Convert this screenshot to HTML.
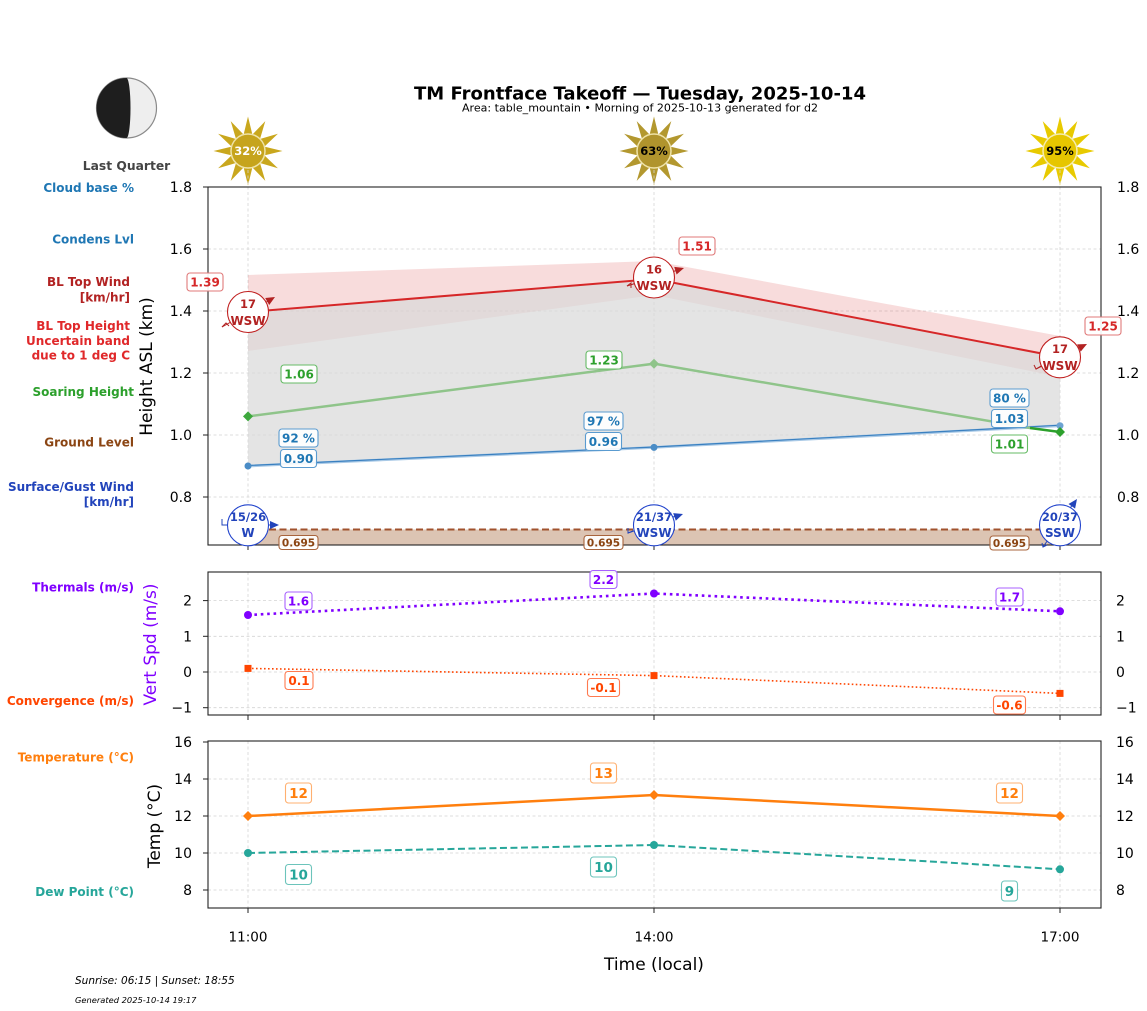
<!DOCTYPE html>
<html><head><meta charset="utf-8"><style>
html,body{margin:0;padding:0;background:#fff;}
svg{display:block;}
text{font-family:"DejaVu Sans","Liberation Sans",sans-serif;}
.b{font-weight:bold;}
</style></head><body>
<svg width="1147" height="1011" viewBox="0 0 1147 1011" xmlns="http://www.w3.org/2000/svg">
<rect x="0" y="0" width="1147" height="1011" fill="#fff"/>

<!-- Title -->
<text x="640" y="99.5" text-anchor="middle" font-size="17.5" class="b" fill="#000" textLength="452" lengthAdjust="spacingAndGlyphs">TM Frontface Takeoff — Tuesday, 2025-10-14</text>
<text x="640" y="111.5" text-anchor="middle" font-size="11" fill="#000" textLength="356" lengthAdjust="spacingAndGlyphs">Area: table_mountain • Morning of 2025-10-13 generated for d2</text>

<!-- Moon -->
<circle cx="126.5" cy="108" r="30" fill="#eeeeee" stroke="#8a8a8a" stroke-width="1.2"/>
<path d="M126.5,78 A30,30 0 0 0 126.5,138 A4,30 0 0 0 126.5,78 Z" fill="#1e1e1e"/>
<text x="126.5" y="170" text-anchor="middle" font-size="12.3" class="b" fill="#444">Last Quarter</text>

<!-- Suns -->
<g transform="translate(248,151)">
<polygon points="0,-34.5 4.4,-16.4 17.3,-29.9 12,-12 29.9,-17.3 16.4,-4.4 34.5,0 16.4,4.4 29.9,17.3 12,12 17.3,29.9 4.4,16.4 0,34.5 -4.4,16.4 -17.3,29.9 -12,12 -29.9,17.3 -16.4,4.4 -34.5,0 -16.4,-4.4 -29.9,-17.3 -12,-12 -17.3,-29.9 -4.4,-16.4" fill="#c9a71d"/>
<circle r="17" fill="#c6a41c" stroke="#efe3a8" stroke-width="1.5"/>
<text y="4" text-anchor="middle" font-size="11.5" class="b" fill="#fff">32%</text>
</g>
<g transform="translate(654,151)">
<polygon points="0,-34.5 4.4,-16.4 17.3,-29.9 12,-12 29.9,-17.3 16.4,-4.4 34.5,0 16.4,4.4 29.9,17.3 12,12 17.3,29.9 4.4,16.4 0,34.5 -4.4,16.4 -17.3,29.9 -12,12 -29.9,17.3 -16.4,4.4 -34.5,0 -16.4,-4.4 -29.9,-17.3 -12,-12 -17.3,-29.9 -4.4,-16.4" fill="#b3982f"/>
<circle r="17" fill="#b0942d" stroke="#efe3a8" stroke-width="1.5"/>
<text y="4" text-anchor="middle" font-size="11.5" class="b" fill="#000">63%</text>
</g>
<g transform="translate(1060,151)">
<polygon points="0,-34.5 4.4,-16.4 17.3,-29.9 12,-12 29.9,-17.3 16.4,-4.4 34.5,0 16.4,4.4 29.9,17.3 12,12 17.3,29.9 4.4,16.4 0,34.5 -4.4,16.4 -17.3,29.9 -12,12 -29.9,17.3 -16.4,4.4 -34.5,0 -16.4,-4.4 -29.9,-17.3 -12,-12 -17.3,-29.9 -4.4,-16.4" fill="#e8ca00"/>
<circle r="17" fill="#e6c600" stroke="#f5ecb0" stroke-width="1.5"/>
<text y="4" text-anchor="middle" font-size="11.5" class="b" fill="#000">95%</text>
</g>

<!-- Left category labels -->
<g font-size="12" class="b" text-anchor="end">
<text x="134" y="192" fill="#1f77b4">Cloud base %</text>
<text x="134" y="243.5" fill="#1f77b4">Condens Lvl</text>
<text x="130" y="286" fill="#b22222">BL Top Wind</text>
<text x="130" y="301.5" fill="#b22222">[km/hr]</text>
<text x="130" y="330" fill="#e0282a">BL Top Height</text>
<text x="130" y="345" fill="#e0282a">Uncertain band</text>
<text x="130" y="359.5" fill="#e0282a">due to 1 deg C</text>
<text x="134" y="396" fill="#2ca02c">Soaring Height</text>
<text x="134" y="446.5" fill="#8b4513">Ground Level</text>
<text x="134" y="491" fill="#2244bb">Surface/Gust Wind</text>
<text x="134" y="506" fill="#2244bb">[km/hr]</text>
<text x="134" y="591.5" fill="#8000ff">Thermals (m/s)</text>
<text x="134" y="705" fill="#ff4500">Convergence (m/s)</text>
<text x="134" y="761.5" fill="#ff7f0e">Temperature (°C)</text>
<text x="134" y="896" fill="#26a69a">Dew Point (°C)</text>
</g>

<!-- Axis labels -->
<text transform="translate(152,366.5) rotate(-90)" text-anchor="middle" font-size="17" fill="#000">Height ASL (km)</text>
<text transform="translate(156,644.5) rotate(-90)" text-anchor="middle" font-size="17" fill="#8000ff">Vert Spd (m/s)</text>
<text transform="translate(160,826) rotate(-90)" text-anchor="middle" font-size="17" fill="#000">Temp (°C)</text>
<text x="654" y="970" text-anchor="middle" font-size="17" fill="#000">Time (local)</text>

<!-- Grids -->
<g stroke="#d4d4d4" stroke-width="0.8" stroke-dasharray="3,2.5" fill="none">
<line x1="208" y1="249" x2="1101" y2="249"/>
<line x1="208" y1="311" x2="1101" y2="311"/>
<line x1="208" y1="373" x2="1101" y2="373"/>
<line x1="208" y1="435" x2="1101" y2="435"/>
<line x1="208" y1="497" x2="1101" y2="497"/>
<line x1="248" y1="170" x2="248" y2="545"/>
<line x1="654" y1="170" x2="654" y2="545"/>
<line x1="1060" y1="170" x2="1060" y2="545"/>
<line x1="208" y1="600.6" x2="1101" y2="600.6"/>
<line x1="208" y1="636.3" x2="1101" y2="636.3"/>
<line x1="208" y1="672" x2="1101" y2="672"/>
<line x1="208" y1="707.7" x2="1101" y2="707.7"/>
<line x1="248" y1="572" x2="248" y2="715"/>
<line x1="654" y1="572" x2="654" y2="715"/>
<line x1="1060" y1="572" x2="1060" y2="715"/>
<line x1="208" y1="779" x2="1101" y2="779"/>
<line x1="208" y1="816" x2="1101" y2="816"/>
<line x1="208" y1="853" x2="1101" y2="853"/>
<line x1="208" y1="890" x2="1101" y2="890"/>
<line x1="248" y1="741" x2="248" y2="908"/>
<line x1="654" y1="741" x2="654" y2="908"/>
<line x1="1060" y1="741" x2="1060" y2="908"/>
</g>

<!-- Main panel fills -->
<polygon points="248,275 654,261 1060,336 1060,377 654,295 248,351" fill="#d62728" fill-opacity="0.16"/>
<polygon points="248,312 654,279 1060,357 1060,425.7 654,447.4 248,466" fill="#d8d8d8" fill-opacity="0.7"/>
<rect x="248" y="529.5" width="812" height="15.5" fill="#dcc4b3"/>
<line x1="248" y1="529.5" x2="1060" y2="529.5" stroke="#a0522d" stroke-width="2" stroke-dasharray="7,3.5"/>

<!-- Blue cloud base -->
<polyline points="248,466 654,447.4 1060,425.7" fill="none" stroke="#a9c9e6" stroke-width="2.8"/>
<polyline points="248,465.5 654,447 1060,425.2" fill="none" stroke="#3a80c0" stroke-width="1.2"/>
<circle cx="248" cy="466" r="3.5" fill="#4a8cc6"/>
<circle cx="654" cy="447.4" r="3.5" fill="#4a8cc6"/>
<circle cx="1060" cy="425.7" r="3.5" fill="#6da3d2"/>

<!-- Green soaring -->
<polyline points="248,416.4 654,363.7 1030,428" fill="none" stroke="#8fc48a" stroke-width="2.5"/>
<line x1="1030" y1="428" x2="1060" y2="432" stroke="#2ca02c" stroke-width="2.5"/>
<polygon points="248,411.4 253,416.4 248,421.4 243,416.4" fill="#3da83d"/>
<polygon points="654,358.7 659,363.7 654,368.7 649,363.7" fill="#8fc48a"/>
<polygon points="1060,427 1065,432 1060,437 1055,432" fill="#2ca02c"/>

<!-- Red BL top -->
<polyline points="248,312 654,279 1060,357" fill="none" stroke="#d62728" stroke-width="2"/>

<!-- Middle panel data -->
<polyline points="248,615 654,593.5 1060,611.3" fill="none" stroke="#8000ff" stroke-width="2.6" stroke-dasharray="2.6,3.8"/>
<circle cx="248" cy="615" r="4" fill="#8000ff"/>
<circle cx="654" cy="593.5" r="4" fill="#8000ff"/>
<circle cx="1060" cy="611.3" r="4" fill="#8000ff"/>
<polyline points="248,668.4 654,675.6 1060,693.4" fill="none" stroke="#ff4500" stroke-width="1.6" stroke-dasharray="1.6,2.4"/>
<rect x="244.5" y="664.9" width="7" height="7" fill="#ff4500"/>
<rect x="650.5" y="672.1" width="7" height="7" fill="#ff4500"/>
<rect x="1056.5" y="689.9" width="7" height="7" fill="#ff4500"/>

<!-- Bottom panel data -->
<polyline points="248,816 654,795 1060,816" fill="none" stroke="#ff7f0e" stroke-width="2.5"/>
<polygon points="248,811 253,816 248,821 243,816" fill="#ff7f0e"/>
<polygon points="654,790 659,795 654,800 649,795" fill="#ff7f0e"/>
<polygon points="1060,811 1065,816 1060,821 1055,816" fill="#ff7f0e"/>
<polyline points="248,853 654,845 1060,869.3" fill="none" stroke="#26a69a" stroke-width="2" stroke-dasharray="7,3.5"/>
<circle cx="248" cy="853" r="4" fill="#26a69a"/>
<circle cx="654" cy="845" r="4" fill="#26a69a"/>
<circle cx="1060" cy="869.3" r="4" fill="#26a69a"/>

<!-- Frames -->
<g fill="none" stroke="#222" stroke-width="1.1">
<rect x="208" y="187" width="893" height="358"/>
<rect x="208" y="572" width="893" height="143"/>
<rect x="208" y="741" width="893" height="167"/>
</g>
<!-- Ticks -->
<g stroke="#222" stroke-width="1">
<line x1="203" y1="187" x2="208" y2="187"/>
<line x1="203" y1="249" x2="208" y2="249"/>
<line x1="203" y1="311" x2="208" y2="311"/>
<line x1="203" y1="373" x2="208" y2="373"/>
<line x1="203" y1="435" x2="208" y2="435"/>
<line x1="203" y1="497" x2="208" y2="497"/>
<line x1="203" y1="600.6" x2="208" y2="600.6"/>
<line x1="203" y1="636.3" x2="208" y2="636.3"/>
<line x1="203" y1="672" x2="208" y2="672"/>
<line x1="203" y1="707.7" x2="208" y2="707.7"/>
<line x1="203" y1="742" x2="208" y2="742"/>
<line x1="203" y1="779" x2="208" y2="779"/>
<line x1="203" y1="816" x2="208" y2="816"/>
<line x1="203" y1="853" x2="208" y2="853"/>
<line x1="203" y1="890" x2="208" y2="890"/>
<line x1="248" y1="545" x2="248" y2="550"/>
<line x1="654" y1="545" x2="654" y2="550"/>
<line x1="1060" y1="545" x2="1060" y2="550"/>
<line x1="248" y1="715" x2="248" y2="720"/>
<line x1="654" y1="715" x2="654" y2="720"/>
<line x1="1060" y1="715" x2="1060" y2="720"/>
<line x1="248" y1="908" x2="248" y2="913"/>
<line x1="654" y1="908" x2="654" y2="913"/>
<line x1="1060" y1="908" x2="1060" y2="913"/>
</g>

<!-- Tick labels -->
<g font-size="14" fill="#000" text-anchor="end">
<text x="192" y="192">1.8</text><text x="192" y="254">1.6</text><text x="192" y="316">1.4</text>
<text x="192" y="378">1.2</text><text x="192" y="440">1.0</text><text x="192" y="502">0.8</text>
<text x="192" y="605.6">2</text><text x="192" y="641.3">1</text><text x="192" y="677">0</text><text x="192" y="712.7">−1</text>
<text x="192" y="747">16</text><text x="192" y="784">14</text><text x="192" y="821">12</text><text x="192" y="858">10</text><text x="192" y="895">8</text>
</g>
<g font-size="14" fill="#000" text-anchor="start">
<text x="1117" y="192">1.8</text><text x="1117" y="254">1.6</text><text x="1117" y="316">1.4</text>
<text x="1117" y="378">1.2</text><text x="1117" y="440">1.0</text><text x="1117" y="502">0.8</text>
<text x="1116" y="605.6">2</text><text x="1116" y="641.3">1</text><text x="1116" y="677">0</text><text x="1116" y="712.7">−1</text>
<text x="1116" y="747">16</text><text x="1116" y="784">14</text><text x="1116" y="821">12</text><text x="1116" y="858">10</text><text x="1116" y="895">8</text>
</g>
<g font-size="13.5" fill="#000" text-anchor="middle">
<text x="248" y="941.5">11:00</text><text x="654" y="941.5">14:00</text><text x="1060" y="941.5">17:00</text>
</g>

<!-- Wind arrows -->
<g stroke-width="1" fill="none">
<polyline points="222,327 226,323 229,326" stroke="#b22222"/>
<line x1="222" y1="327" x2="270" y2="300" stroke="#b22222"/>
<line x1="627" y1="286" x2="678" y2="270" stroke="#b22222"/>
<polyline points="627,286 631,283 631,288" stroke="#b22222"/>
<line x1="1036" y1="369" x2="1080" y2="347" stroke="#b22222"/>
<polyline points="1034,365 1036,369 1041,366" stroke="#b22222"/>
<line x1="222" y1="525" x2="272" y2="525" stroke="#2244bb"/>
<polyline points="222,519 222,525 228,525" stroke="#2244bb"/>
<line x1="628" y1="533" x2="676" y2="516" stroke="#2244bb"/>
<polyline points="628,528 628,533 633,531" stroke="#2244bb"/>
<line x1="1043" y1="547" x2="1073" y2="504" stroke="#2244bb"/>
<polyline points="1042,543 1043,547 1047,545" stroke="#2244bb"/>
</g>
<polygon points="275,297 269.2,305 265.2,298" fill="#b22222"/>
<polygon points="684,268 676.6,274.5 674.2,266.9" fill="#b22222"/>
<polygon points="1087,344 1080.7,351.6 1077.1,344.4" fill="#b22222"/>
<polygon points="279,525 270,521 270,529" fill="#2244bb"/>
<polygon points="683,514 675.8,520.7 673.2,513.1" fill="#2244bb"/>
<polygon points="1077,499 1075.1,508.6 1068.5,504" fill="#2244bb"/>

<!-- Wind circles -->
<g stroke-width="1.1" fill="#fff">
<circle cx="248" cy="312" r="20.5" stroke="#c02020"/>
<circle cx="654" cy="277.5" r="20.5" stroke="#c02020"/>
<circle cx="1060" cy="357.3" r="20.5" stroke="#c02020"/>
<circle cx="248" cy="525.3" r="20.5" stroke="#2244cc"/>
<circle cx="654" cy="525.3" r="20.5" stroke="#2244cc"/>
<circle cx="1060" cy="525.3" r="20.5" stroke="#2244cc"/>
</g>
<g class="b" text-anchor="middle" fill="#b22222">
<text x="248" y="308" font-size="11.5">17</text><text x="248" y="325" font-size="12">WSW</text>
<text x="654" y="273.3" font-size="11.5">16</text><text x="654" y="290" font-size="12">WSW</text>
<text x="1060" y="353" font-size="11.5">17</text><text x="1060" y="370" font-size="12">WSW</text>
</g>
<g class="b" text-anchor="middle" fill="#2244bb" font-size="11.5">
<text x="248" y="521">15/26</text><text x="248" y="537" font-size="12">W</text>
<text x="654" y="521">21/37</text><text x="654" y="537" font-size="12">WSW</text>
<text x="1060" y="521">20/37</text><text x="1060" y="537" font-size="12">SSW</text>
</g>

<!-- Value boxes -->
<g fill="#fff" fill-opacity="0.92" stroke-width="1.1">
<rect x="187" y="273" width="36" height="18" rx="3" stroke="#e07a7a"/>
<rect x="679" y="237" width="36" height="18" rx="3" stroke="#e07a7a"/>
<rect x="1085" y="317" width="36" height="18" rx="3" stroke="#e07a7a"/>
<rect x="281" y="365" width="36" height="18" rx="3" stroke="#66bb66"/>
<rect x="586" y="351" width="36" height="18" rx="3" stroke="#66bb66"/>
<rect x="991.5" y="435" width="36" height="18" rx="3" stroke="#66bb66"/>
<rect x="279" y="429" width="39" height="18" rx="3" stroke="#5a9bd0"/>
<rect x="280.5" y="449.5" width="36" height="18" rx="3" stroke="#5a9bd0"/>
<rect x="584" y="412" width="39" height="18" rx="3" stroke="#5a9bd0"/>
<rect x="585.5" y="432.5" width="36" height="18" rx="3" stroke="#5a9bd0"/>
<rect x="990" y="389" width="39" height="18" rx="3" stroke="#5a9bd0"/>
<rect x="991.5" y="409.5" width="36" height="18" rx="3" stroke="#5a9bd0"/>
<rect x="279" y="535.5" width="39" height="14" rx="3" stroke="#a8643c"/>
<rect x="584" y="535.5" width="39" height="14" rx="3" stroke="#a8643c"/>
<rect x="990" y="536" width="39" height="14" rx="3" stroke="#a8643c"/>
<rect x="285" y="592" width="27" height="18" rx="3" stroke="#a860ff"/>
<rect x="590" y="570.5" width="27" height="18" rx="3" stroke="#a860ff"/>
<rect x="996" y="588" width="27" height="18" rx="3" stroke="#a860ff"/>
<rect x="285" y="671.5" width="28" height="18" rx="3" stroke="#ff7a50"/>
<rect x="587.5" y="678.5" width="32" height="18" rx="3" stroke="#ff7a50"/>
<rect x="993.5" y="696" width="32" height="18" rx="3" stroke="#ff7a50"/>
<rect x="285.5" y="783" width="26" height="20" rx="3" stroke="#ffb070"/>
<rect x="590.5" y="763" width="26" height="20" rx="3" stroke="#ffb070"/>
<rect x="996.5" y="783" width="26" height="20" rx="3" stroke="#ffb070"/>
<rect x="285.5" y="864.5" width="26" height="20" rx="3" stroke="#6cc4bb"/>
<rect x="590.5" y="857" width="26" height="20" rx="3" stroke="#6cc4bb"/>
<rect x="1001.5" y="881" width="16" height="20" rx="3" stroke="#6cc4bb"/>
</g>
<g class="b" text-anchor="middle" font-size="12">
<text x="205" y="286.4" fill="#d62728">1.39</text>
<text x="697" y="250.4" fill="#d62728">1.51</text>
<text x="1103" y="330.4" fill="#d62728">1.25</text>
<text x="299" y="378.4" fill="#2ca02c">1.06</text>
<text x="604" y="364.4" fill="#2ca02c">1.23</text>
<text x="1009.5" y="448.4" fill="#2ca02c">1.01</text>
<text x="298.5" y="442.4" fill="#1f77b4">92 %</text>
<text x="298.5" y="463" fill="#1f77b4">0.90</text>
<text x="603.5" y="425.4" fill="#1f77b4">97 %</text>
<text x="603.5" y="446" fill="#1f77b4">0.96</text>
<text x="1009.5" y="402.4" fill="#1f77b4">80 %</text>
<text x="1009.5" y="423" fill="#1f77b4">1.03</text>
<text x="298.5" y="546.3" fill="#8b4513" font-size="10.5">0.695</text>
<text x="603.5" y="546.3" fill="#8b4513" font-size="10.5">0.695</text>
<text x="1009.5" y="546.8" fill="#8b4513" font-size="10.5">0.695</text>
<text x="298.5" y="605.4" fill="#8000ff">1.6</text>
<text x="603.5" y="584" fill="#8000ff">2.2</text>
<text x="1009.5" y="601.4" fill="#8000ff">1.7</text>
<text x="299" y="685" fill="#ff4500">0.1</text>
<text x="603.5" y="692" fill="#ff4500">-0.1</text>
<text x="1009.5" y="709.4" fill="#ff4500">-0.6</text>
<text x="298.5" y="797.9" fill="#ff7f0e" font-size="13.5">12</text>
<text x="603.5" y="777.9" fill="#ff7f0e" font-size="13.5">13</text>
<text x="1009.5" y="797.9" fill="#ff7f0e" font-size="13.5">12</text>
<text x="298.5" y="879.4" fill="#26a69a" font-size="13.5">10</text>
<text x="603.5" y="871.9" fill="#26a69a" font-size="13.5">10</text>
<text x="1009.5" y="895.9" fill="#26a69a" font-size="13.5">9</text>
</g>

<!-- Footer -->
<text x="75" y="984" font-size="10.5" font-style="italic" fill="#000">Sunrise: 06:15 | Sunset: 18:55</text>
<text x="75" y="1003" font-size="8.3" font-style="italic" fill="#000">Generated 2025-10-14 19:17</text>
</svg>
</body></html>
